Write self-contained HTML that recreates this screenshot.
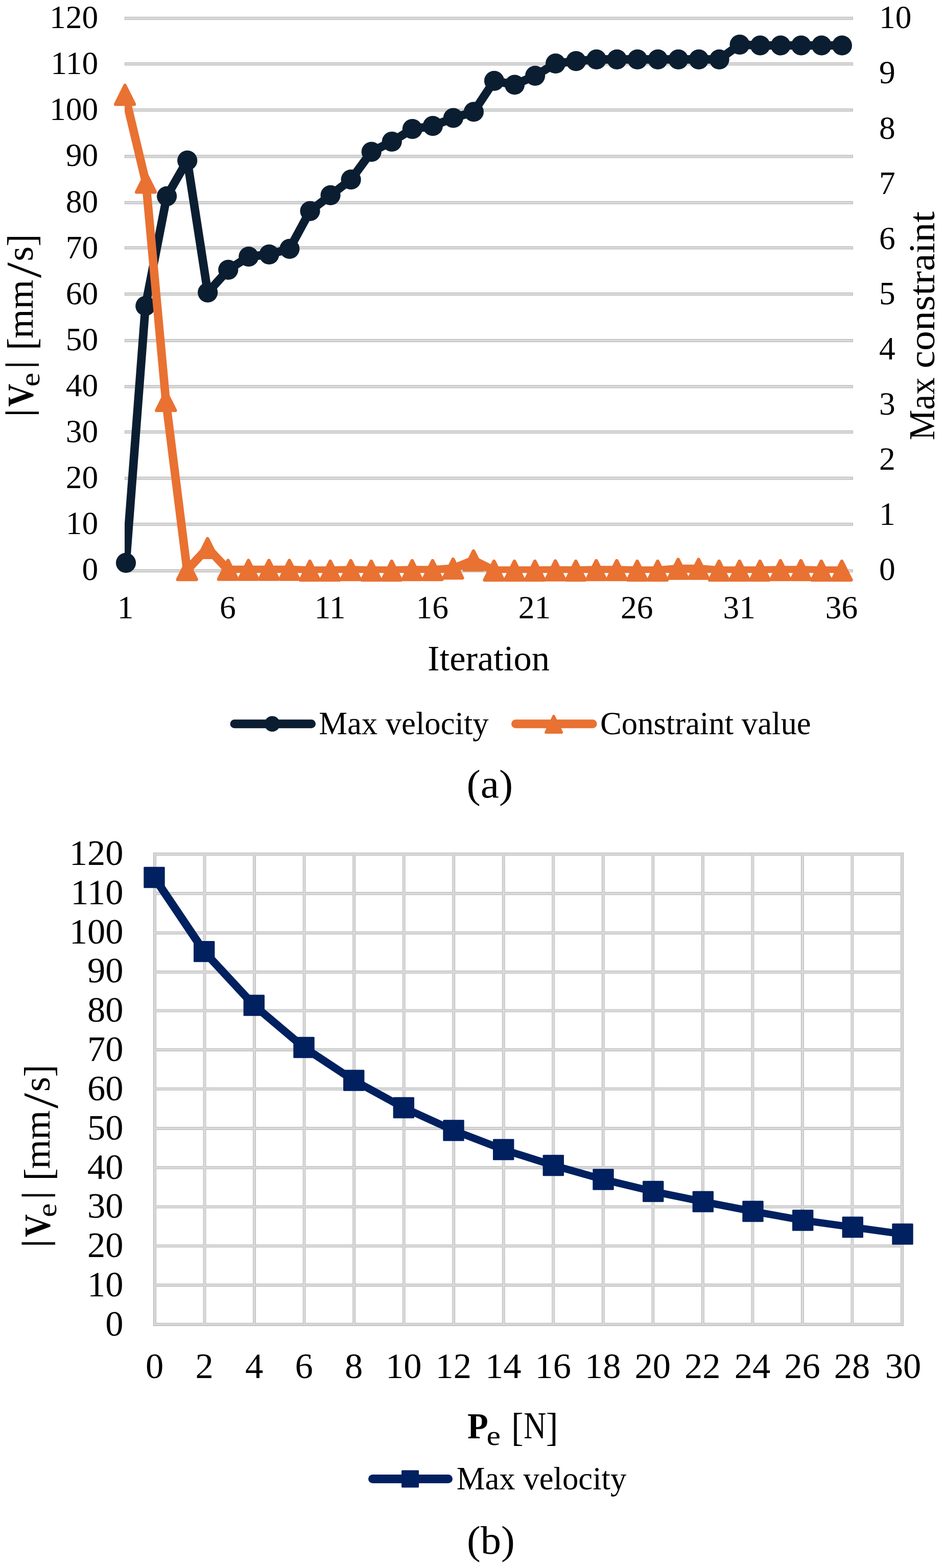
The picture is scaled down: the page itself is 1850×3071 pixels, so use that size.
<!DOCTYPE html>
<html lang="en">
<head>
<meta charset="utf-8">
<title>Max velocity and constraint charts</title>
<style>
html,body{margin:0;padding:0;background:#fff;}
body{width:1850px;height:3071px;overflow:hidden;font-family:"Liberation Serif", serif;}
svg{display:block;}
text{white-space:pre;}
</style>
</head>
<body>
<svg width="1850" height="3071" viewBox="0 0 1850 3071">
<rect x="0" y="0" width="1850" height="3071" fill="#fff"/>
<g fill="#D9D9D9" stroke="#B2B2B2" stroke-width="1">
<rect x="244.50" y="33.40" width="1424.80" height="5.00"/>
<rect x="244.50" y="122.77" width="1424.80" height="5.00"/>
<rect x="244.50" y="213.03" width="1424.80" height="5.00"/>
<rect x="244.50" y="303.90" width="1424.80" height="5.00"/>
<rect x="244.50" y="394.37" width="1424.80" height="5.00"/>
<rect x="244.50" y="482.83" width="1424.80" height="5.00"/>
<rect x="244.50" y="573.40" width="1424.80" height="5.00"/>
<rect x="244.50" y="664.57" width="1424.80" height="5.00"/>
<rect x="244.50" y="754.73" width="1424.80" height="5.00"/>
<rect x="244.50" y="843.60" width="1424.80" height="5.00"/>
<rect x="244.50" y="934.17" width="1424.80" height="5.00"/>
<rect x="244.50" y="1024.33" width="1424.80" height="5.00"/>
<rect x="244.50" y="1115.40" width="1424.80" height="5.00"/>
</g>
<clipPath id="clipA"><rect x="244.0" y="32.9" width="1425.8" height="1089.3"/></clipPath>
<g fill="#0B1E31"><polyline clip-path="url(#clipA)" points="246.5,1102.4 284.8,599.2 326.6,384.3 366.7,314.4 406.7,572.8 446.8,528.3 486.8,502.7 526.9,498.3 566.9,487.3 607.0,413.3 647.0,382.3 687.1,351.7 727.2,297.3 767.2,277.3 807.3,252.7 847.3,246.7 887.4,231.0 927.4,219.0 967.5,158.3 1007.5,166.0 1047.6,148.3 1087.6,124.3 1127.7,119.7 1167.7,116.3 1207.8,116.3 1247.9,116.3 1287.9,116.3 1328.0,116.3 1368.0,116.3 1408.1,116.3 1448.1,87.3 1488.2,89.0 1528.2,89.0 1568.3,89.0 1608.3,89.0 1648.4,89.0" fill="none" stroke="#0B1E31" stroke-width="16.7" stroke-linejoin="round" stroke-linecap="round"/>
<circle cx="246.5" cy="1102.4" r="19.6"/>
<circle cx="284.8" cy="599.2" r="19.6"/>
<circle cx="326.6" cy="384.3" r="19.6"/>
<circle cx="366.7" cy="314.4" r="19.6"/>
<circle cx="406.7" cy="572.8" r="19.6"/>
<circle cx="446.8" cy="528.3" r="19.6"/>
<circle cx="486.8" cy="502.7" r="19.6"/>
<circle cx="526.9" cy="498.3" r="19.6"/>
<circle cx="566.9" cy="487.3" r="19.6"/>
<circle cx="607.0" cy="413.3" r="19.6"/>
<circle cx="647.0" cy="382.3" r="19.6"/>
<circle cx="687.1" cy="351.7" r="19.6"/>
<circle cx="727.2" cy="297.3" r="19.6"/>
<circle cx="767.2" cy="277.3" r="19.6"/>
<circle cx="807.3" cy="252.7" r="19.6"/>
<circle cx="847.3" cy="246.7" r="19.6"/>
<circle cx="887.4" cy="231.0" r="19.6"/>
<circle cx="927.4" cy="219.0" r="19.6"/>
<circle cx="967.5" cy="158.3" r="19.6"/>
<circle cx="1007.5" cy="166.0" r="19.6"/>
<circle cx="1047.6" cy="148.3" r="19.6"/>
<circle cx="1087.6" cy="124.3" r="19.6"/>
<circle cx="1127.7" cy="119.7" r="19.6"/>
<circle cx="1167.7" cy="116.3" r="19.6"/>
<circle cx="1207.8" cy="116.3" r="19.6"/>
<circle cx="1247.9" cy="116.3" r="19.6"/>
<circle cx="1287.9" cy="116.3" r="19.6"/>
<circle cx="1328.0" cy="116.3" r="19.6"/>
<circle cx="1368.0" cy="116.3" r="19.6"/>
<circle cx="1408.1" cy="116.3" r="19.6"/>
<circle cx="1448.1" cy="87.3" r="19.6"/>
<circle cx="1488.2" cy="89.0" r="19.6"/>
<circle cx="1528.2" cy="89.0" r="19.6"/>
<circle cx="1568.3" cy="89.0" r="19.6"/>
<circle cx="1608.3" cy="89.0" r="19.6"/>
<circle cx="1648.4" cy="89.0" r="19.6"/>
</g>
<g fill="#E97132" stroke="#E97132" stroke-width="6.4" stroke-linejoin="round"><polyline clip-path="url(#clipA)" points="244.6,185.7 285.7,357.7 324.8,785.4 366.3,1116.5 406.3,1073.3 446.4,1116.0 486.4,1116.0 526.5,1116.0 566.5,1116.0 606.6,1117.5 646.6,1117.5 686.7,1116.5 726.8,1117.5 766.8,1117.5 806.9,1116.5 846.9,1116.5 887.0,1113.5 927.0,1097.5 967.1,1117.5 1007.1,1117.5 1047.2,1117.5 1087.2,1117.0 1127.3,1117.5 1167.3,1116.5 1207.4,1116.5 1247.5,1117.5 1287.5,1117.5 1327.6,1114.0 1367.6,1114.0 1407.7,1117.5 1447.7,1117.5 1487.8,1117.5 1527.8,1116.5 1567.9,1116.5 1607.9,1117.5 1648.0,1117.5" fill="none" stroke-width="16.7" stroke-linecap="round"/>
<polygon points="244.6,167.1 263.1,204.2 226.2,204.2"/>
<polygon points="285.7,339.1 304.1,376.2 267.2,376.2"/>
<polygon points="324.8,766.9 343.3,803.9 306.4,803.9"/>
<polygon points="366.3,1098.0 384.7,1135.0 347.8,1135.0"/>
<polygon points="406.3,1054.8 424.8,1091.8 387.9,1091.8"/>
<polygon points="446.4,1097.5 464.8,1134.5 427.9,1134.5"/>
<polygon points="486.4,1097.5 504.9,1134.5 468.0,1134.5"/>
<polygon points="526.5,1097.5 544.9,1134.5 508.0,1134.5"/>
<polygon points="566.5,1097.5 585.0,1134.5 548.1,1134.5"/>
<polygon points="606.6,1099.0 625.0,1136.0 588.1,1136.0"/>
<polygon points="646.6,1099.0 665.1,1136.0 628.2,1136.0"/>
<polygon points="686.7,1098.0 705.1,1135.0 668.2,1135.0"/>
<polygon points="726.8,1099.0 745.2,1136.0 708.3,1136.0"/>
<polygon points="766.8,1099.0 785.3,1136.0 748.4,1136.0"/>
<polygon points="806.9,1098.0 825.3,1135.0 788.4,1135.0"/>
<polygon points="846.9,1098.0 865.4,1135.0 828.5,1135.0"/>
<polygon points="887.0,1095.0 905.4,1132.0 868.5,1132.0"/>
<polygon points="927.0,1079.0 945.5,1116.0 908.6,1116.0"/>
<polygon points="967.1,1099.0 985.5,1136.0 948.6,1136.0"/>
<polygon points="1007.1,1099.0 1025.6,1136.0 988.7,1136.0"/>
<polygon points="1047.2,1099.0 1065.6,1136.0 1028.7,1136.0"/>
<polygon points="1087.2,1098.5 1105.7,1135.5 1068.8,1135.5"/>
<polygon points="1127.3,1099.0 1145.7,1136.0 1108.8,1136.0"/>
<polygon points="1167.3,1098.0 1185.8,1135.0 1148.9,1135.0"/>
<polygon points="1207.4,1098.0 1225.9,1135.0 1189.0,1135.0"/>
<polygon points="1247.5,1099.0 1265.9,1136.0 1229.0,1136.0"/>
<polygon points="1287.5,1099.0 1306.0,1136.0 1269.1,1136.0"/>
<polygon points="1327.6,1095.5 1346.0,1132.5 1309.1,1132.5"/>
<polygon points="1367.6,1095.5 1386.1,1132.5 1349.2,1132.5"/>
<polygon points="1407.7,1099.0 1426.1,1136.0 1389.2,1136.0"/>
<polygon points="1447.7,1099.0 1466.2,1136.0 1429.3,1136.0"/>
<polygon points="1487.8,1099.0 1506.2,1136.0 1469.3,1136.0"/>
<polygon points="1527.8,1098.0 1546.3,1135.0 1509.4,1135.0"/>
<polygon points="1567.9,1098.0 1586.3,1135.0 1549.4,1135.0"/>
<polygon points="1607.9,1099.0 1626.4,1136.0 1589.5,1136.0"/>
<polygon points="1648.0,1099.0 1666.5,1136.0 1629.5,1136.0"/>
</g>
<g font-family='"Liberation Serif", serif' fill="#000">
<text x="192.20" y="55.20" font-size="63.5" text-anchor="end">120</text>
<text x="192.20" y="145.28" font-size="63.5" text-anchor="end">110</text>
<text x="192.20" y="235.37" font-size="63.5" text-anchor="end">100</text>
<text x="192.20" y="325.45" font-size="63.5" text-anchor="end">90</text>
<text x="192.20" y="415.53" font-size="63.5" text-anchor="end">80</text>
<text x="192.20" y="505.62" font-size="63.5" text-anchor="end">70</text>
<text x="192.20" y="595.70" font-size="63.5" text-anchor="end">60</text>
<text x="192.20" y="685.78" font-size="63.5" text-anchor="end">50</text>
<text x="192.20" y="775.87" font-size="63.5" text-anchor="end">40</text>
<text x="192.20" y="865.95" font-size="63.5" text-anchor="end">30</text>
<text x="192.20" y="956.03" font-size="63.5" text-anchor="end">20</text>
<text x="192.20" y="1046.12" font-size="63.5" text-anchor="end">10</text>
<text x="192.20" y="1136.20" font-size="63.5" text-anchor="end">0</text>
<text x="1721.00" y="55.30" font-size="63.5" text-anchor="start">10</text>
<text x="1721.00" y="163.40" font-size="63.5" text-anchor="start">9</text>
<text x="1721.00" y="271.50" font-size="63.5" text-anchor="start">8</text>
<text x="1721.00" y="379.60" font-size="63.5" text-anchor="start">7</text>
<text x="1721.00" y="487.70" font-size="63.5" text-anchor="start">6</text>
<text x="1721.00" y="595.80" font-size="63.5" text-anchor="start">5</text>
<text x="1721.00" y="703.90" font-size="63.5" text-anchor="start">4</text>
<text x="1721.00" y="812.00" font-size="63.5" text-anchor="start">3</text>
<text x="1721.00" y="920.10" font-size="63.5" text-anchor="start">2</text>
<text x="1721.00" y="1028.20" font-size="63.5" text-anchor="start">1</text>
<text x="1721.00" y="1136.30" font-size="63.5" text-anchor="start">0</text>
<text x="245.50" y="1211.20" font-size="63.5" text-anchor="middle">1</text>
<text x="445.77" y="1211.20" font-size="63.5" text-anchor="middle">6</text>
<text x="646.04" y="1211.20" font-size="63.5" text-anchor="middle">11</text>
<text x="846.31" y="1211.20" font-size="63.5" text-anchor="middle">16</text>
<text x="1046.59" y="1211.20" font-size="63.5" text-anchor="middle">21</text>
<text x="1246.86" y="1211.20" font-size="63.5" text-anchor="middle">26</text>
<text x="1447.13" y="1211.20" font-size="63.5" text-anchor="middle">31</text>
<text x="1647.40" y="1211.20" font-size="63.5" text-anchor="middle">36</text>
<text x="956.60" y="1313.20" font-size="70.6" text-anchor="middle">Iteration</text>
<text transform="rotate(-90)" style="font-kerning:none"><tspan x="-818.00" y="60.60" font-size="70.90" textLength="18.89" lengthAdjust="spacingAndGlyphs">|</tspan><tspan x="-796.39" y="63.81" font-size="72.10" textLength="44.69" lengthAdjust="spacingAndGlyphs" font-weight="bold">V</tspan><tspan x="-757.31" y="77.37" font-size="54.06" textLength="27.34" lengthAdjust="spacingAndGlyphs">e</tspan><tspan x="-723.65" y="60.60" font-size="70.90" textLength="18.49" lengthAdjust="spacingAndGlyphs">|</tspan> <tspan x="-685.67" y="69.07" font-size="77.93" textLength="24.08" lengthAdjust="spacingAndGlyphs">[</tspan><tspan x="-662.65" y="64.10" font-size="72.37" textLength="114.60" lengthAdjust="spacingAndGlyphs">mm</tspan><tspan x="-544.20" y="79.05" font-size="97.47" textLength="30.20" lengthAdjust="spacingAndGlyphs">/</tspan><tspan x="-511.69" y="64.09" font-size="73.19" textLength="29.31" lengthAdjust="spacingAndGlyphs">s</tspan><tspan x="-482.60" y="69.07" font-size="77.93" textLength="23.93" lengthAdjust="spacingAndGlyphs">]</tspan></text>
<text transform="rotate(-90)" style="font-kerning:none"><tspan x="-862.13" y="1828.90" font-size="72.80" textLength="122.95" lengthAdjust="spacingAndGlyphs">Max</tspan> <tspan x="-721.47" y="1828.90" font-size="72.80" textLength="307.32" lengthAdjust="spacingAndGlyphs">constraint</tspan></text>
<text x="624.20" y="1438.00" font-size="62.7" text-anchor="start">Max velocity</text>
<text x="1175.00" y="1438.00" font-size="62.7" text-anchor="start">Constraint value</text>
<text style="font-kerning:none"><tspan x="913.41" y="1561.56" font-size="77.20" textLength="90.79" lengthAdjust="spacingAndGlyphs">(a)</tspan></text>
</g>
<g><line x1="459" y1="1417.8" x2="609.5" y2="1417.8" stroke="#0B1E31" stroke-width="17" stroke-linecap="round"/><circle cx="533" cy="1417.8" r="15.3" fill="#0B1E31"/></g>
<g><line x1="1009.5" y1="1417.8" x2="1160.2" y2="1417.8" stroke="#E97132" stroke-width="17" stroke-linecap="round"/><polygon points="1084,1402.3 1099.6,1434.4 1068.6,1434.4" fill="#E97132" stroke="#E97132" stroke-width="5" stroke-linejoin="round"/></g>
<g fill="#D9D9D9" stroke="#B2B2B2" stroke-width="1">
<rect x="300.50" y="1670.50" width="1468.00" height="4.80"/>
<rect x="300.50" y="1747.54" width="1468.00" height="4.80"/>
<rect x="300.50" y="1824.78" width="1468.00" height="4.80"/>
<rect x="300.50" y="1901.42" width="1468.00" height="4.80"/>
<rect x="300.50" y="1977.07" width="1468.00" height="4.80"/>
<rect x="300.50" y="2053.71" width="1468.00" height="4.80"/>
<rect x="300.50" y="2130.35" width="1468.00" height="4.80"/>
<rect x="300.50" y="2207.69" width="1468.00" height="4.80"/>
<rect x="300.50" y="2284.43" width="1468.00" height="4.80"/>
<rect x="300.50" y="2361.18" width="1468.00" height="4.80"/>
<rect x="300.50" y="2437.92" width="1468.00" height="4.80"/>
<rect x="300.50" y="2514.66" width="1468.00" height="4.80"/>
<rect x="300.50" y="2591.40" width="1468.00" height="4.80"/>
<rect x="300.60" y="1670.40" width="4.80" height="925.90"/>
<rect x="398.13" y="1670.40" width="4.80" height="925.90"/>
<rect x="495.67" y="1670.40" width="4.80" height="925.90"/>
<rect x="593.20" y="1670.40" width="4.80" height="925.90"/>
<rect x="690.73" y="1670.40" width="4.80" height="925.90"/>
<rect x="788.27" y="1670.40" width="4.80" height="925.90"/>
<rect x="885.80" y="1670.40" width="4.80" height="925.90"/>
<rect x="983.33" y="1670.40" width="4.80" height="925.90"/>
<rect x="1080.87" y="1670.40" width="4.80" height="925.90"/>
<rect x="1178.40" y="1670.40" width="4.80" height="925.90"/>
<rect x="1275.93" y="1670.40" width="4.80" height="925.90"/>
<rect x="1373.47" y="1670.40" width="4.80" height="925.90"/>
<rect x="1471.00" y="1670.40" width="4.80" height="925.90"/>
<rect x="1568.53" y="1670.40" width="4.80" height="925.90"/>
<rect x="1666.07" y="1670.40" width="4.80" height="925.90"/>
<rect x="1763.60" y="1670.40" width="4.80" height="925.90"/>
</g>
<g fill="#D9D9D9">
<rect x="301.10" y="1671.00" width="1466.80" height="3.80"/>
<rect x="301.10" y="1748.04" width="1466.80" height="3.80"/>
<rect x="301.10" y="1825.28" width="1466.80" height="3.80"/>
<rect x="301.10" y="1901.92" width="1466.80" height="3.80"/>
<rect x="301.10" y="1977.57" width="1466.80" height="3.80"/>
<rect x="301.10" y="2054.21" width="1466.80" height="3.80"/>
<rect x="301.10" y="2130.85" width="1466.80" height="3.80"/>
<rect x="301.10" y="2208.19" width="1466.80" height="3.80"/>
<rect x="301.10" y="2284.93" width="1466.80" height="3.80"/>
<rect x="301.10" y="2361.68" width="1466.80" height="3.80"/>
<rect x="301.10" y="2438.42" width="1466.80" height="3.80"/>
<rect x="301.10" y="2515.16" width="1466.80" height="3.80"/>
<rect x="301.10" y="2591.90" width="1466.80" height="3.80"/>
<rect x="301.10" y="1671.00" width="3.80" height="924.70"/>
<rect x="398.63" y="1671.00" width="3.80" height="924.70"/>
<rect x="496.17" y="1671.00" width="3.80" height="924.70"/>
<rect x="593.70" y="1671.00" width="3.80" height="924.70"/>
<rect x="691.23" y="1671.00" width="3.80" height="924.70"/>
<rect x="788.77" y="1671.00" width="3.80" height="924.70"/>
<rect x="886.30" y="1671.00" width="3.80" height="924.70"/>
<rect x="983.83" y="1671.00" width="3.80" height="924.70"/>
<rect x="1081.37" y="1671.00" width="3.80" height="924.70"/>
<rect x="1178.90" y="1671.00" width="3.80" height="924.70"/>
<rect x="1276.43" y="1671.00" width="3.80" height="924.70"/>
<rect x="1373.97" y="1671.00" width="3.80" height="924.70"/>
<rect x="1471.50" y="1671.00" width="3.80" height="924.70"/>
<rect x="1569.03" y="1671.00" width="3.80" height="924.70"/>
<rect x="1666.57" y="1671.00" width="3.80" height="924.70"/>
<rect x="1764.10" y="1671.00" width="3.80" height="924.70"/>
</g>
<rect x="300.60" y="1670.50" width="1467.80" height="925.70" fill="none" stroke="#B2B2B2" stroke-width="1"/>
<g fill="#002060"><polyline transform="scale(1.17,1)" points="258.12,1718.5 341.60,1863.6 425.07,1969.0 508.55,2051.5 592.02,2116.0 675.50,2169.5 758.97,2214.0 842.45,2251.5 925.93,2282.5 1009.40,2310.0 1092.88,2333.5 1176.35,2353.5 1259.83,2372.5 1343.30,2390.0 1426.78,2403.5 1510.26,2417.0" fill="none" stroke="#002060" stroke-width="14.3" stroke-linejoin="round"/>
<rect x="281.3" y="1697.8" width="41.4" height="41.4" rx="1.5"/>
<rect x="379.0" y="1842.9" width="41.4" height="41.4" rx="1.5"/>
<rect x="476.6" y="1948.3" width="41.4" height="41.4" rx="1.5"/>
<rect x="574.3" y="2030.8" width="41.4" height="41.4" rx="1.5"/>
<rect x="672.0" y="2095.3" width="41.4" height="41.4" rx="1.5"/>
<rect x="769.6" y="2148.8" width="41.4" height="41.4" rx="1.5"/>
<rect x="867.3" y="2193.3" width="41.4" height="41.4" rx="1.5"/>
<rect x="965.0" y="2230.8" width="41.4" height="41.4" rx="1.5"/>
<rect x="1062.6" y="2261.8" width="41.4" height="41.4" rx="1.5"/>
<rect x="1160.3" y="2289.3" width="41.4" height="41.4" rx="1.5"/>
<rect x="1258.0" y="2312.8" width="41.4" height="41.4" rx="1.5"/>
<rect x="1355.6" y="2332.8" width="41.4" height="41.4" rx="1.5"/>
<rect x="1453.3" y="2351.8" width="41.4" height="41.4" rx="1.5"/>
<rect x="1551.0" y="2369.3" width="41.4" height="41.4" rx="1.5"/>
<rect x="1648.6" y="2382.8" width="41.4" height="41.4" rx="1.5"/>
<rect x="1746.3" y="2396.3" width="41.4" height="41.4" rx="1.5"/>
</g>
<g font-family='"Liberation Serif", serif' fill="#000">
<text x="241.50" y="1693.80" font-size="70.5" text-anchor="end">120</text>
<text x="241.50" y="1770.65" font-size="70.5" text-anchor="end">110</text>
<text x="241.50" y="1847.50" font-size="70.5" text-anchor="end">100</text>
<text x="241.50" y="1924.35" font-size="70.5" text-anchor="end">90</text>
<text x="241.50" y="2001.20" font-size="70.5" text-anchor="end">80</text>
<text x="241.50" y="2078.05" font-size="70.5" text-anchor="end">70</text>
<text x="241.50" y="2154.90" font-size="70.5" text-anchor="end">60</text>
<text x="241.50" y="2231.75" font-size="70.5" text-anchor="end">50</text>
<text x="241.50" y="2308.60" font-size="70.5" text-anchor="end">40</text>
<text x="241.50" y="2385.45" font-size="70.5" text-anchor="end">30</text>
<text x="241.50" y="2462.30" font-size="70.5" text-anchor="end">20</text>
<text x="241.50" y="2539.15" font-size="70.5" text-anchor="end">10</text>
<text x="241.50" y="2616.00" font-size="70.5" text-anchor="end">0</text>
<text x="302.50" y="2698.70" font-size="70.5" text-anchor="middle">0</text>
<text x="400.03" y="2698.70" font-size="70.5" text-anchor="middle">2</text>
<text x="497.57" y="2698.70" font-size="70.5" text-anchor="middle">4</text>
<text x="595.10" y="2698.70" font-size="70.5" text-anchor="middle">6</text>
<text x="692.63" y="2698.70" font-size="70.5" text-anchor="middle">8</text>
<text x="790.17" y="2698.70" font-size="70.5" text-anchor="middle">10</text>
<text x="887.70" y="2698.70" font-size="70.5" text-anchor="middle">12</text>
<text x="985.23" y="2698.70" font-size="70.5" text-anchor="middle">14</text>
<text x="1082.77" y="2698.70" font-size="70.5" text-anchor="middle">16</text>
<text x="1180.30" y="2698.70" font-size="70.5" text-anchor="middle">18</text>
<text x="1277.83" y="2698.70" font-size="70.5" text-anchor="middle">20</text>
<text x="1375.37" y="2698.70" font-size="70.5" text-anchor="middle">22</text>
<text x="1472.90" y="2698.70" font-size="70.5" text-anchor="middle">24</text>
<text x="1570.43" y="2698.70" font-size="70.5" text-anchor="middle">26</text>
<text x="1667.97" y="2698.70" font-size="70.5" text-anchor="middle">28</text>
<text x="1768.00" y="2698.70" font-size="70.5" text-anchor="middle">30</text>
<text style="font-kerning:none"><tspan x="915.06" y="2816.70" font-size="72.08" textLength="40.73" lengthAdjust="spacingAndGlyphs" font-weight="bold">P</tspan><tspan x="952.58" y="2830.37" font-size="53.85" textLength="27.46" lengthAdjust="spacingAndGlyphs">e</tspan> <tspan x="1000.93" y="2821.99" font-size="78.54" textLength="23.63" lengthAdjust="spacingAndGlyphs">[</tspan><tspan x="1025.25" y="2817.30" font-size="73.00" textLength="43.95" lengthAdjust="spacingAndGlyphs">N</tspan><tspan x="1068.82" y="2821.99" font-size="78.54" textLength="23.78" lengthAdjust="spacingAndGlyphs">]</tspan></text>
<text transform="rotate(-90)" style="font-kerning:none"><tspan x="-2444.70" y="93.40" font-size="70.90" textLength="18.89" lengthAdjust="spacingAndGlyphs">|</tspan><tspan x="-2423.09" y="96.61" font-size="72.10" textLength="44.69" lengthAdjust="spacingAndGlyphs" font-weight="bold">V</tspan><tspan x="-2384.01" y="110.17" font-size="54.06" textLength="27.34" lengthAdjust="spacingAndGlyphs">e</tspan><tspan x="-2350.35" y="93.40" font-size="70.90" textLength="18.49" lengthAdjust="spacingAndGlyphs">|</tspan> <tspan x="-2312.37" y="101.87" font-size="77.93" textLength="24.08" lengthAdjust="spacingAndGlyphs">[</tspan><tspan x="-2289.35" y="96.90" font-size="72.37" textLength="114.60" lengthAdjust="spacingAndGlyphs">mm</tspan><tspan x="-2170.90" y="111.85" font-size="97.47" textLength="30.20" lengthAdjust="spacingAndGlyphs">/</tspan><tspan x="-2138.39" y="96.89" font-size="73.19" textLength="29.31" lengthAdjust="spacingAndGlyphs">s</tspan><tspan x="-2109.30" y="101.87" font-size="77.93" textLength="23.93" lengthAdjust="spacingAndGlyphs">]</tspan></text>
<text x="893.80" y="2917.20" font-size="62.7" text-anchor="start">Max velocity</text>
<text style="font-kerning:none"><tspan x="914.07" y="3043.26" font-size="77.20" textLength="93.77" lengthAdjust="spacingAndGlyphs">(b)</tspan></text>
</g>
<g><line x1="729.5" y1="2896.5" x2="877.5" y2="2896.5" stroke="#002060" stroke-width="17" stroke-linecap="round"/><rect x="786" y="2879.5" width="34" height="34" rx="1.5" fill="#002060"/></g>
</svg>
</body>
</html>
